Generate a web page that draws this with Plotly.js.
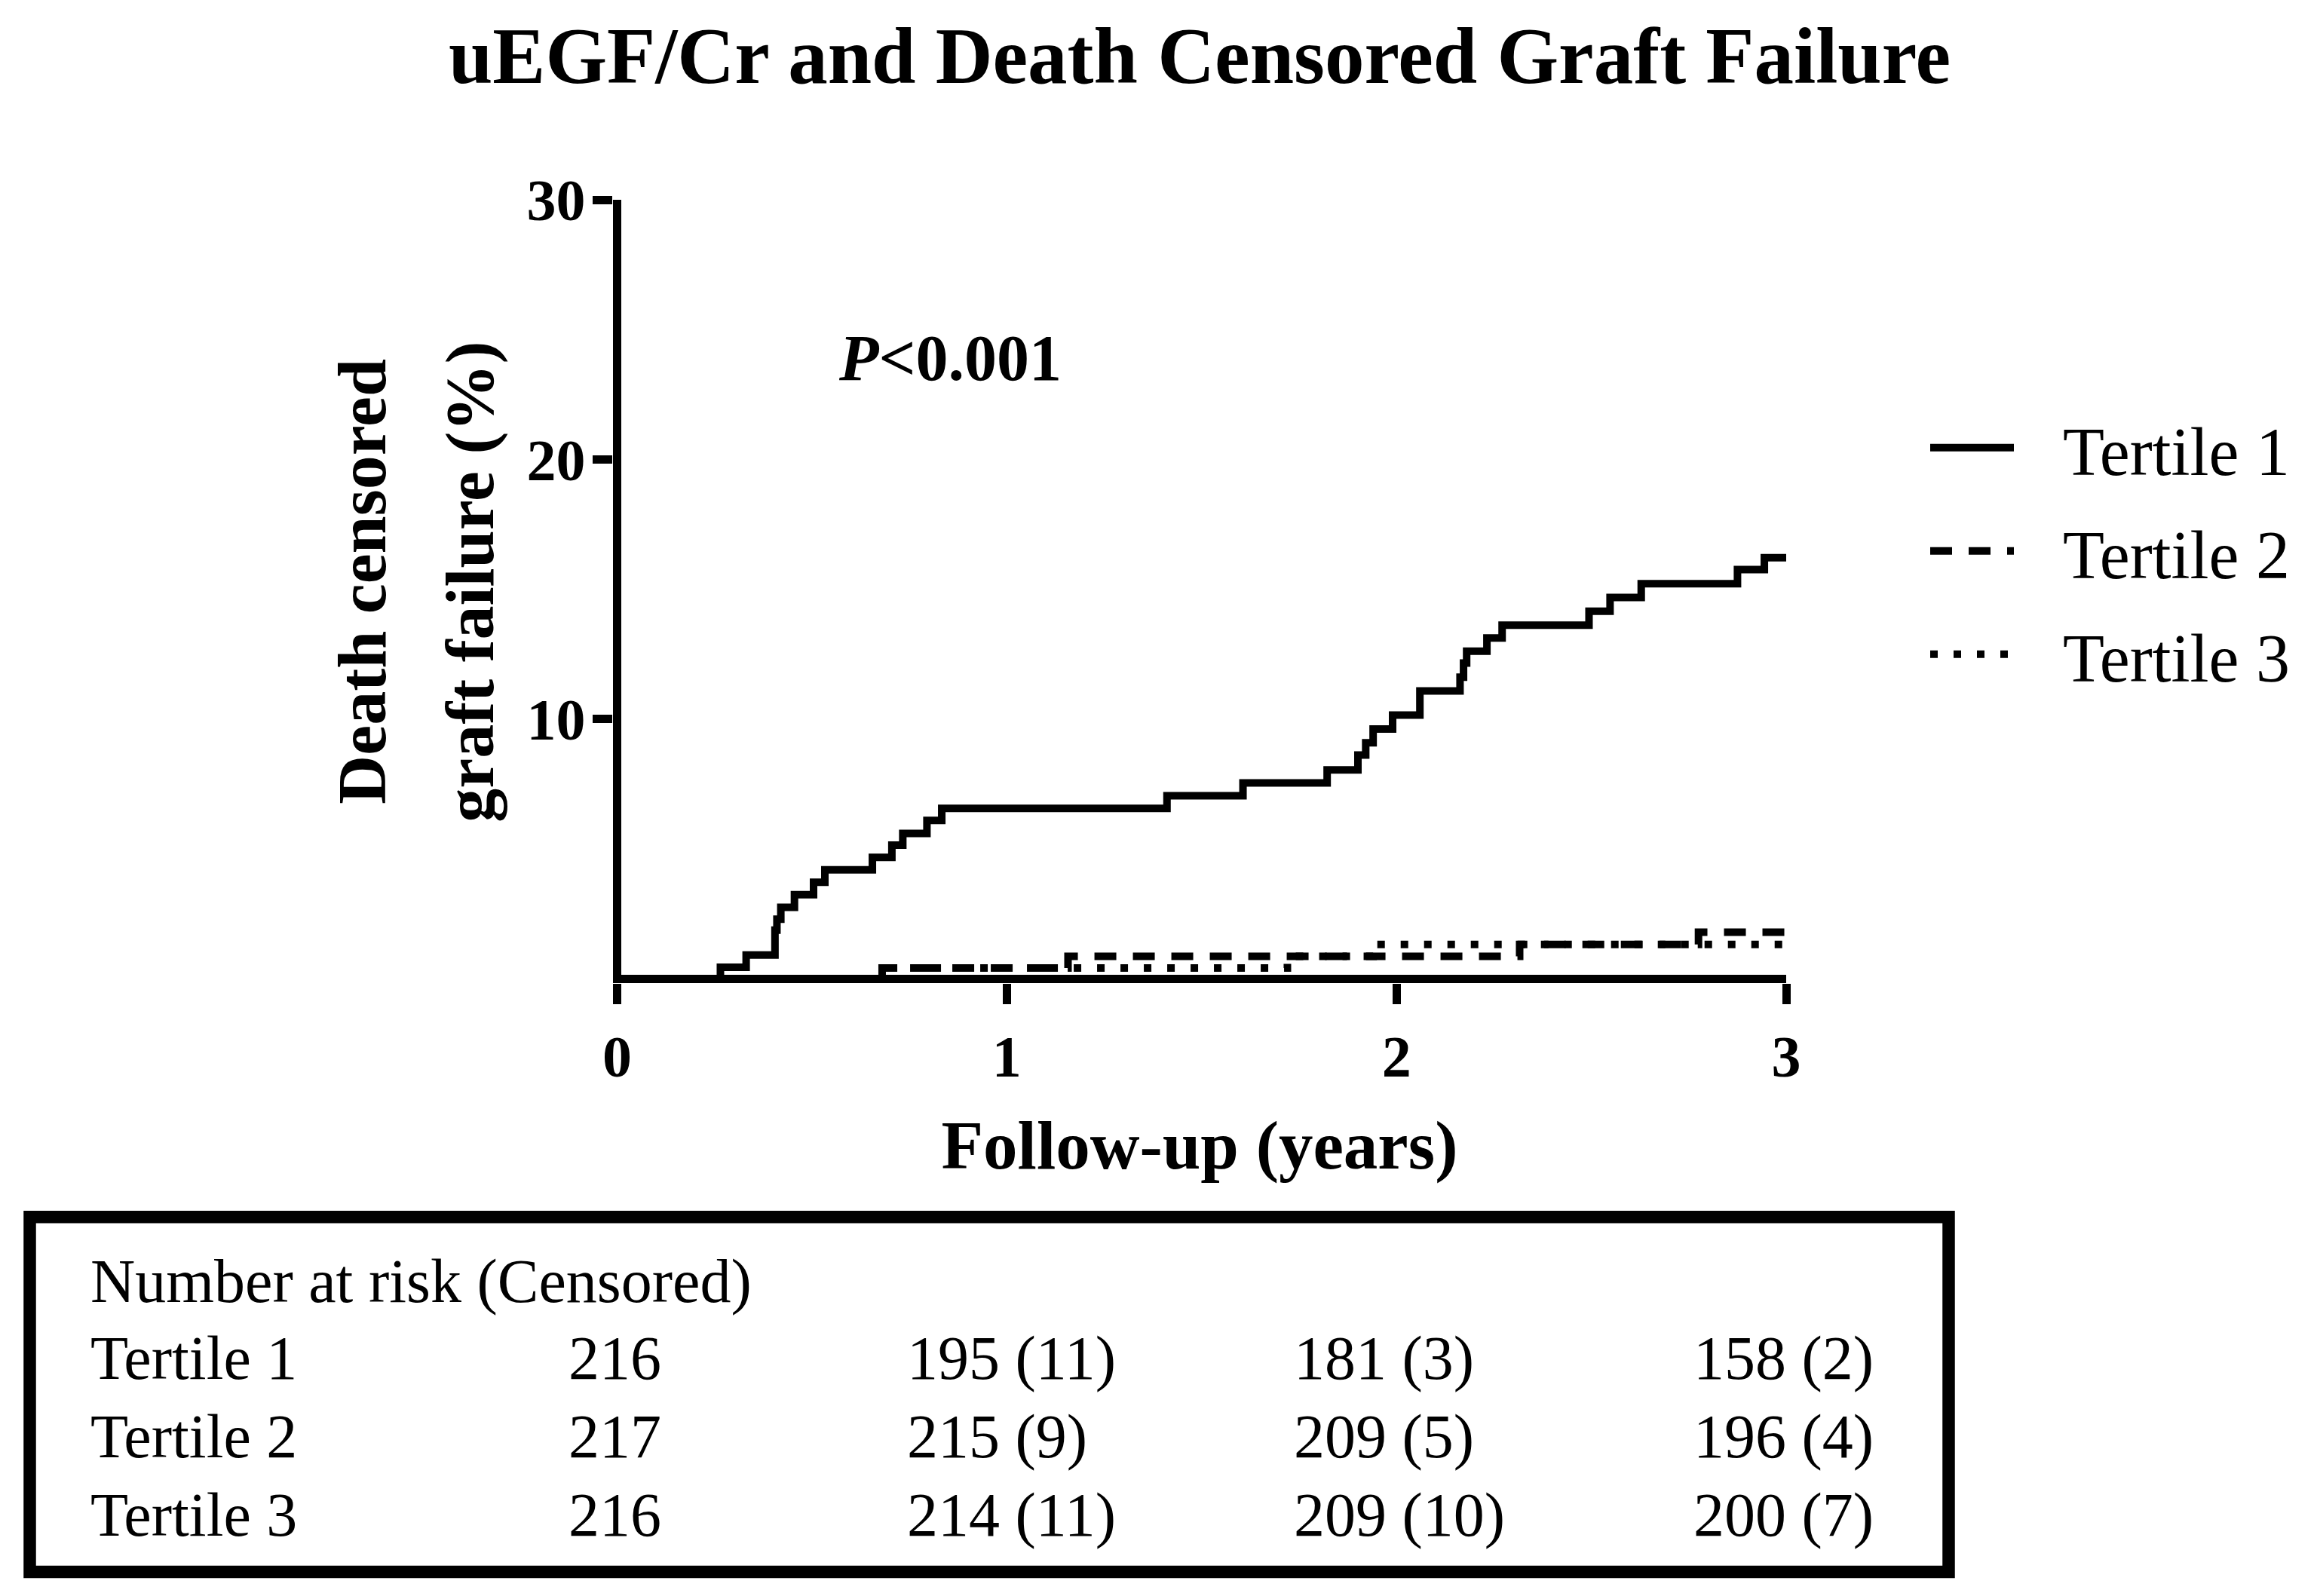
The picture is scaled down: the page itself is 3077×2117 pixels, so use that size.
<!DOCTYPE html>
<html>
<head>
<meta charset="utf-8">
<script src="https://cdn.plot.ly/plotly-3.0.1.min.js"></script>
<style>html,body{margin:0;padding:0;background:#fff;}#chart{width:3077px;height:2117px;}</style>
</head>
<body>
<div id="chart"></div>
<script>
// ---- data ----
const tertile1Years = [0, 0.265, 0.331, 0.405, 0.41, 0.42, 0.455, 0.504, 0.533, 0.655, 0.705, 0.733, 0.795, 0.833, 1.411, 1.606, 1.822, 1.901, 1.921, 1.94, 1.99, 2.06, 2.163, 2.172, 2.18, 2.232, 2.271, 2.494, 2.548, 2.628, 2.875, 2.944, 3.0];
const tertile1Pct   = [0, 0.45, 0.92, 1.88, 2.3, 2.76, 3.24, 3.72, 4.2, 4.68, 5.15, 5.6, 6.1, 6.57, 7.05, 7.55, 8.05, 8.62, 9.09, 9.62, 10.16, 11.09, 11.62, 12.16, 12.62, 13.13, 13.62, 14.16, 14.69, 15.22, 15.76, 16.22, 16.22];
const tertile2Years = [0, 0.68, 1.157, 2.316, 2.775, 3.0];
const tertile2Pct   = [0, 0.42, 0.87, 1.33, 1.8, 1.8];
const tertile3Years = [0, 0.685, 1.72, 1.94, 3.0];
const tertile3Pct   = [0, 0.42, 0.87, 1.33, 1.33];
const seriesNames = ['Tertile 1', 'Tertile 2', 'Tertile 3'];
const xTicks = [0, 1, 2, 3];
const yTicks = [10, 20, 30];
const titleText = 'uEGF/Cr and Death Censored Graft Failure';
const xTitle = 'Follow-up (years)';
const yTitleLines = ['Death censored', 'graft failure (%)'];
const pText = '<i>P</i>&lt;0.001';
const riskHeader = 'Number at risk (Censored)';
const riskTertile1 = ['216', '195 (11)', '181 (3)', '158 (2)'];
const riskTertile2 = ['217', '215 (9)', '209 (5)', '196 (4)'];
const riskTertile3 = ['216', '214 (11)', '209 (10)', '200 (7)'];

// ---- layout geometry (pixels) ----
const W = 3077, H = 2117;
const M = {l: 813, r: 708, t: 265, b: 812.5};
const plotW = W - M.l - M.r, plotH = H - M.t - M.b;
const px2x = p => (p - M.l) / plotW;          // paper x
const px2y = p => (H - M.b - p) / plotH;      // paper y
const serif = 'Liberation Serif, Times New Roman, serif';

const lineStyles = [
  {shape: 'hv', color: '#000', width: 10},
  {shape: 'hv', color: '#000', width: 10, dash: '29px,22px'},
  {shape: 'hv', color: '#000', width: 10, dash: '10px,21px'}
];
const traces = [
  {x: tertile1Years, y: tertile1Pct, name: seriesNames[0], mode: 'lines', line: lineStyles[0], cliponaxis: false, showlegend: false},
  {x: tertile2Years, y: tertile2Pct, name: seriesNames[1], mode: 'lines', line: lineStyles[1], cliponaxis: false, showlegend: false},
  {x: tertile3Years, y: tertile3Pct, name: seriesNames[2], mode: 'lines', line: lineStyles[2], cliponaxis: false, showlegend: false}
];

const annotations = [];
const shapes = [];
annotations.push({xref: 'x', yref: 'y', x: 0.564, y: 23.89, xanchor: 'left', yanchor: 'middle', showarrow: false,
  text: pText, font: {family: serif, size: 86, color: '#000', weight: 700}});
const yTitleX = [481, 624];
yTitleLines.forEach((t, i) => annotations.push({xref: 'paper', yref: 'paper', x: px2x(yTitleX[i]), y: px2y(772),
  xanchor: 'center', yanchor: 'middle', textangle: -90, showarrow: false, text: t,
  font: {family: serif, size: 90, color: '#000', weight: 700}}));

// legend (drawn as key lines + labels)
const legendY = [594, 731, 868];
seriesNames.forEach((n, i) => {
  shapes.push({type: 'line', xref: 'paper', yref: 'paper', x0: px2x(2560), x1: px2x(2671), y0: px2y(legendY[i]), y1: px2y(legendY[i]),
    line: {color: '#000', width: 10, dash: lineStyles[i].dash || 'solid'}});
  annotations.push({xref: 'paper', yref: 'paper', x: px2x(2734), y: px2y(legendY[i] + 6), xanchor: 'left', yanchor: 'middle',
    showarrow: false, text: n, font: {family: serif, size: 90, color: '#000'}});
});

// risk table
const colX = [118, 752, 1201, 1714, 2244];
const rowY = [1700, 1802, 1906, 2010];
const tableFont = {family: serif, size: 82, color: '#000'};
annotations.push({xref: 'paper', yref: 'paper', x: px2x(colX[0]), y: px2y(rowY[0]), xanchor: 'left', yanchor: 'middle', showarrow: false, text: riskHeader, font: tableFont});
[riskTertile1, riskTertile2, riskTertile3].forEach((row, r) => {
  annotations.push({xref: 'paper', yref: 'paper', x: px2x(colX[0]), y: px2y(rowY[r + 1]), xanchor: 'left', yanchor: 'middle', showarrow: false, text: seriesNames[r], font: tableFont});
  row.forEach((v, c) => annotations.push({xref: 'paper', yref: 'paper', x: px2x(colX[c + 1]), y: px2y(rowY[r + 1]), xanchor: 'left', yanchor: 'middle', showarrow: false, text: v, font: tableFont}));
});
shapes.push({type: 'rect', xref: 'paper', yref: 'paper', x0: px2x(39.5), x1: px2x(2584.5), y0: px2y(1615), y1: px2y(2086), line: {color: '#000', width: 16.5}});

const layout = {
  width: W, height: H, margin: M, paper_bgcolor: '#fff', plot_bgcolor: '#fff',
  title: {text: titleText, x: 0.5, xref: 'paper', xanchor: 'center', y: 1 - 73 / H, yref: 'container', yanchor: 'middle',
    font: {family: serif, size: 105, color: '#000', weight: 700}},
  xaxis: {range: [-0.0107, 3], tickvals: xTicks, ticktext: xTicks.map(String), showgrid: false, showline: false,
    zeroline: true, zerolinecolor: '#000', zerolinewidth: 11, ticks: 'outside', ticklen: 27, tickwidth: 11, tickcolor: '#000',
    ticklabelstandoff: 2, tickfont: {family: serif, size: 78, color: '#000', weight: 700},
    title: {text: xTitle, standoff: 42, font: {family: serif, size: 91, color: '#000', weight: 700}}},
  yaxis: {range: [-0.16, 30], tickvals: yTicks, ticktext: yTicks.map(String), showgrid: false, showline: false,
    zeroline: true, zerolinecolor: '#000', zerolinewidth: 11, ticks: 'outside', ticklen: 26, tickwidth: 11, tickcolor: '#000',
    ticklabelstandoff: -6, tickfont: {family: serif, size: 78, color: '#000', weight: 700}},
  showlegend: false,
  annotations: annotations, shapes: shapes
};

Plotly.newPlot('chart', traces, layout, {staticPlot: true, displayModeBar: false});
</script>
</body>
</html>
